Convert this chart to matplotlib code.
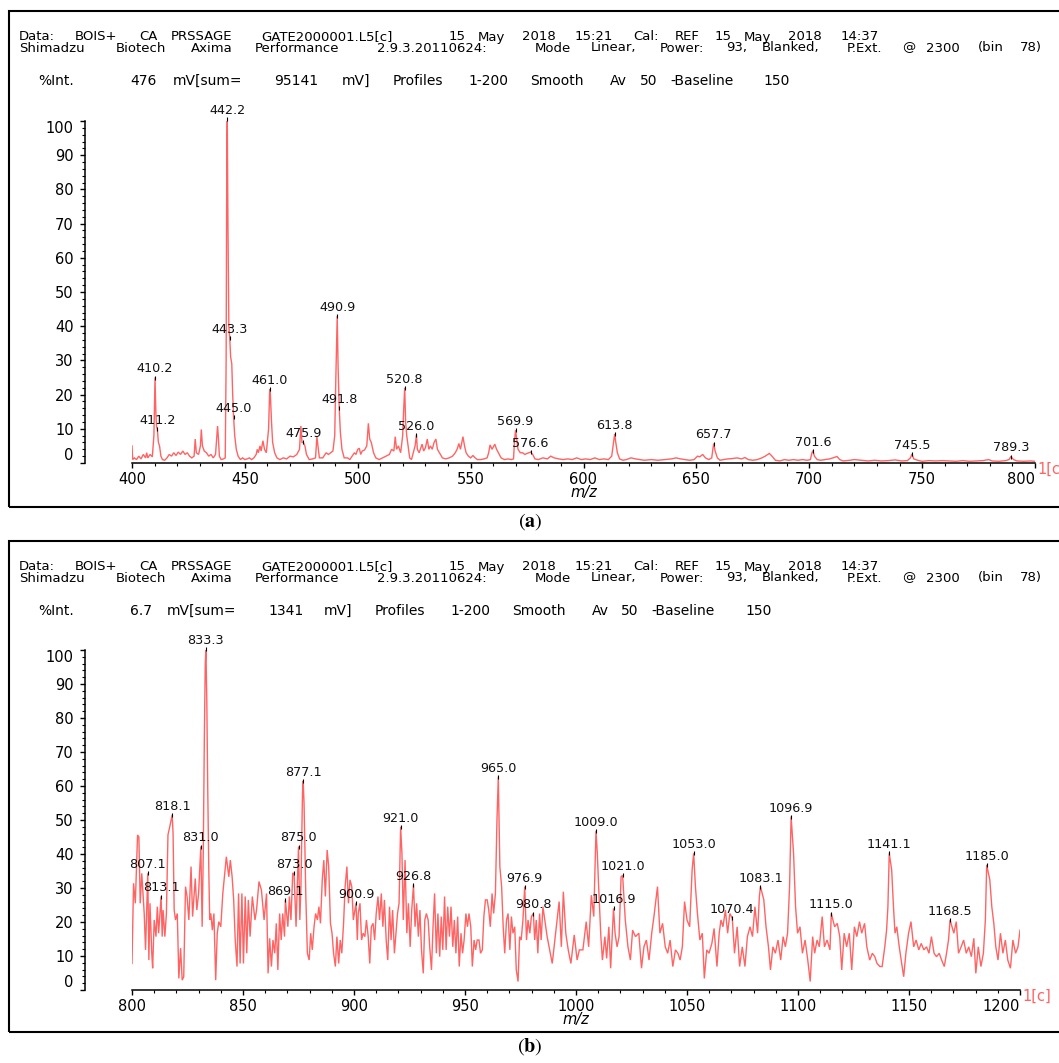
import matplotlib
matplotlib.use("Agg")
import matplotlib.pyplot as plt
from matplotlib.ticker import FixedLocator
from matplotlib.patches import Rectangle

# ---------------- data ----------------
header_line1 = "Data: BOIS+ CA PRSSAGE GATE2000001.L5[c] 15 May 2018 15:21 Cal: REF 15 May 2018 14:37"
header_line2 = ("Shimadzu Biotech Axima Performance 2.9.3.20110624: Mode Linear, Power: 93, "
                "Blanked, P.Ext. @ 2300 (bin 78)")
info_a = "476 mV[sum= 95141 mV]  Profiles 1-200 Smooth Av 50 -Baseline 150"
info_b = "6.7 mV[sum= 1341 mV]  Profiles 1-200 Smooth Av 50 -Baseline 150"
ylabel_txt = "%Int."
xlabel_txt = "m/z"
trace_tag = "1[c]"
panel_tags = ["a", "b"]

yticks = list(range(0, 101, 10))
xticks_a = list(range(400, 801, 50))
xticks_b = list(range(800, 1201, 50))

# panel (a) profile: m/z and %Int
mz_a = [400.0, 400.3, 401, 402, 403, 404, 405, 406, 406.5, 407,
        408, 409, 409.7, 410.2, 410.6, 410.9, 411.2, 411.7, 412.2, 412.8,
        413.5, 414.5, 415.5, 416.5, 417.5, 418.5, 419.5, 420.5, 421.5, 422.5,
        423.5, 424.5, 425.5, 426.5, 427.5, 428.0, 428.5, 429.5, 430.3, 430.7,
        431.2, 432, 433, 434, 435, 436, 437, 437.6, 437.9, 438.3,
        438.7, 439.5, 440.5, 441.3, 441.7, 442.0, 442.2, 442.5, 442.9, 443.3,
        443.7, 444.2, 444.6, 445.0, 445.5, 446.2, 447, 448, 449, 450,
        451, 452, 453, 454, 455, 455.5, 456, 456.7, 457.2, 458,
        458.7, 459.5, 460.5, 461.0, 461.3, 461.8, 462.3, 463.2, 464.2, 465.5,
        467, 468.5, 470, 471.5, 473, 474.2, 474.8, 475.3, 475.9, 476.6,
        477.3, 478.5, 480, 481.3, 481.9, 482.4, 483, 484.5, 486, 487,
        488, 489, 489.8, 490.3, 490.9, 491.3, 491.8, 492.3, 493, 494,
        495.5, 496.5, 497.5, 498.5, 499.2, 500, 500.7, 501.3, 502, 503,
        504, 504.7, 505.3, 506, 507, 508, 509.5, 511, 512.5, 514,
        515, 516.0, 516.6, 517.2, 518, 519, 519.9, 520.3, 520.8, 521.2,
        521.7, 522.3, 523, 523.8, 524.6, 525.4, 526.0, 526.4, 527.2, 528.5,
        529.2, 530.0, 530.8, 531.5, 532.2, 533, 533.8, 534.6, 535.3, 536.2,
        537.5, 539, 540.5, 542, 543.2, 544, 544.8, 545.5, 546.6, 547.3,
        548, 549, 550, 551, 552, 553, 554.5, 556, 557.3, 558,
        558.6, 559.5, 560.7, 561.5, 562.3, 563.5, 565, 566.5, 568, 569,
        569.4, 569.9, 570.4, 571, 572, 573, 574, 575, 576.6, 577.5,
        578.5, 580, 582, 584, 585.5, 587, 589, 591, 593, 595,
        597, 599, 601, 603, 605, 607, 609, 611, 612.5, 613.3,
        613.8, 614.3, 615, 616, 617.5, 619, 621, 623, 625, 627,
        630, 633, 636, 639, 641, 643, 645, 647, 649, 650.5,
        651.5, 652.8, 654, 655.5, 656.8, 657.3, 657.7, 658.3, 659.3, 660.5,
        662, 664, 666, 668, 670, 671.5, 673, 675, 677, 679,
        680.5, 682.3, 683.5, 685, 687, 689, 691, 693, 695, 697,
        699, 700.5, 701.2, 701.6, 702.3, 703.5, 705, 707, 709, 710.5,
        712.3, 713.5, 715, 718, 720, 723, 726, 729, 732, 735,
        738, 741, 743.5, 744.8, 745.5, 746.3, 748, 750, 753, 756,
        759, 762, 765, 768, 771, 774, 777, 779.5, 781, 784,
        787, 788.5, 789.3, 790.5, 792, 795, 798, 800]
int_a = [5.0, 1.0, 1.5, 1.0, 2.0, 1.2, 2.5, 1.5, 3.0, 1.5,
         2.5, 1.8, 8, 25, 14, 10.5, 10, 6, 5, 2,
         1, 0.8, 1.5, 2.5, 2, 3, 2.2, 3.2, 2.5, 3.5,
         2.5, 3, 2, 1.5, 2, 7, 3, 2.5, 5, 9.8,
         5, 3.5, 3, 2, 2.5, 1.5, 2.5, 8, 10.8, 7,
         2, 1.0, 1.2, 1.5, 30, 92, 100.5, 70, 40, 36.5,
         31, 29, 20, 13.5, 8, 4, 2, 1, 1.5, 1,
         1.2, 1.5, 1, 1.5, 2.5, 4, 3, 5, 3.5, 6.5,
         4, 3, 10, 21.5, 20, 12, 6, 3, 1.5, 1,
         1.5, 1.2, 2, 1.8, 2.5, 4, 10.8, 6, 6, 5,
         2.5, 1, 1.2, 1.5, 7.7, 5, 1.5, 1.5, 3, 2.5,
         3, 3.5, 8, 25, 43, 28, 16, 9, 4, 1.5,
         1.5, 1, 2, 3, 2.5, 4, 4.3, 2.5, 3.5, 3.8,
         5, 11.6, 7, 6, 3, 1.5, 1, 1.5, 2, 2.5,
         4, 3.5, 7.7, 4, 5, 3, 8, 15, 22, 12,
         8, 5, 1.5, 1, 3, 5, 8.2, 4, 3, 5.5,
         3.5, 4.5, 7, 4, 5, 4, 6, 7, 4, 3,
         1.5, 1.2, 1.5, 2, 3, 4, 5.7, 4, 7.7, 5,
         3, 2, 1.5, 2.2, 1.5, 1, 1, 1.2, 1.5, 3,
         5.3, 4, 5.5, 4, 3, 1.5, 1, 1.2, 1, 1.2,
         6, 9.6, 7, 4, 3, 3, 2.5, 2.8, 3.2, 2.5,
         1.2, 1, 1.5, 1.2, 2, 1.5, 1.2, 1, 1.2, 1,
         1.5, 1, 1.2, 1, 1.5, 1, 1.2, 1, 2, 6,
         8.5, 6, 3, 1.2, 0.8, 1, 1.5, 1.2, 1, 0.8,
         1, 0.8, 1, 1.2, 1.5, 1.2, 1, 0.8, 1, 2,
         1.8, 2.5, 1.5, 1, 1.5, 4, 5.7, 3.5, 1.5, 0.8,
         1, 1.2, 1.3, 1.5, 1.2, 1.6, 1, 0.8, 1, 1.5,
         2, 2.8, 2, 0.8, 0.6, 1, 0.8, 1, 0.8, 1,
         0.8, 1, 3, 3.6, 2, 1, 0.8, 1, 1.2, 1.5,
         1.9, 1, 0.6, 0.8, 1, 0.8, 0.6, 0.8, 0.6, 0.7,
         0.9, 0.6, 0.7, 1.5, 2.6, 1.2, 0.8, 0.5, 0.7, 0.6,
         0.7, 0.6, 0.5, 0.7, 0.5, 0.6, 0.7, 1, 0.6, 0.5,
         0.7, 1, 1.9, 1, 0.6, 0.5, 0.6, 0.5]

peak_mz_a = [410.2, 411.2, 442.2, 443.3, 445.0, 461.0, 475.9, 490.9, 491.8,
             520.8, 526.0, 569.9, 576.6, 613.8, 657.7, 701.6, 745.5, 789.3]
peak_int_a = [25, 10, 100.5, 36.5, 13.5, 21.5, 6, 43, 16,
              22, 8.2, 9.6, 3.2, 8.5, 5.7, 3.6, 2.6, 1.9]

# panel (b) profile
mz_b = [800.0, 800.7, 801.5, 802.5, 803.1, 803.7, 804.4, 805.5, 806.1, 807.1,
        807.6, 808.1, 808.9, 809.3, 810.0, 810.8, 811.4, 812.0, 813.1, 813.6,
        814.0, 814.8, 815.5, 816.2, 817.0, 818.1, 818.5, 819.0, 819.6, 820.4,
        821.1, 821.9, 822.6, 823.3, 824.1, 824.8, 825.6, 826.6, 827.3, 828.5,
        829.2, 830.0, 831.0, 831.6, 832.1, 832.6, 833.0, 833.3, 833.7, 834.1,
        834.6, 835.0, 835.5, 836.2, 836.9, 837.7, 838.4, 839.1, 840.0, 840.9,
        841.8, 842.5, 843.6, 844.3, 845.1, 845.8, 846.5, 847.3, 848.0, 848.7,
        849.5, 850.2, 851.0, 851.7, 852.4, 853.2, 854.2, 855.4, 856.1, 857.2,
        858.3, 859.5, 860.6, 861.3, 862.0, 862.8, 863.5, 864.3, 865.0, 865.7,
        866.5, 867.2, 867.9, 868.7, 869.1, 870.2, 870.9, 871.6, 872.4, 873.0,
        873.9, 875.0, 875.6, 876.1, 876.8, 877.1, 877.5, 878.3, 879.0, 879.8,
        880.5, 881.2, 882.0, 882.7, 883.5, 884.2, 884.9, 885.7, 886.4, 887.1,
        887.9, 888.6, 889.4, 890.1, 890.8, 891.6, 892.3, 893.1, 893.8, 894.5,
        895.3, 896.0, 896.8, 897.5, 898.2, 899.0, 899.7, 900.9, 901.5, 901.9,
        902.7, 903.4, 904.1, 904.9, 905.6, 906.4, 907.1, 907.8, 908.6, 909.3,
        910.0, 910.8, 911.5, 912.3, 913.0, 913.7, 914.5, 915.2, 916.0, 916.7,
        917.4, 918.2, 918.9, 919.6, 920.3, 921.0, 921.6, 922.2, 923.0, 923.8,
        924.5, 925.3, 926.0, 926.8, 927.5, 928.2, 929.0, 929.7, 930.4, 931.2,
        931.9, 932.6, 933.4, 934.1, 934.9, 935.6, 936.3, 937.1, 937.8, 938.6,
        939.3, 940.0, 940.8, 941.5, 942.2, 943.0, 943.7, 944.5, 945.2, 945.9,
        946.7, 947.4, 948.2, 948.9, 949.6, 950.4, 951.1, 951.8, 952.6, 953.3,
        954.1, 954.8, 955.5, 956.3, 957.0, 957.8, 958.5, 959.2, 960.0, 960.7,
        961.4, 962.2, 962.9, 963.7, 964.4, 965.0, 965.7, 966.5, 967.2, 967.9,
        968.7, 969.4, 970.2, 970.9, 971.6, 972.4, 973.1, 973.9, 974.6, 975.3,
        976.1, 976.9, 977.7, 978.4, 979.2, 979.9, 980.8, 981.4, 982.1, 982.8,
        983.6, 984.3, 985.1, 987.0, 989.3, 990.8, 992.4, 993.4, 994.3, 995.4,
        996.5, 997.7, 999.2, 1000.5, 1001.5, 1003.1, 1004.6, 1005.7, 1006.9, 1008.0,
        1009.0, 1009.6, 1010.2, 1011.2, 1011.9, 1013.0, 1013.8, 1014.8, 1015.6, 1016.9,
        1017.6, 1018.5, 1019.4, 1020.3, 1021.0, 1022.2, 1023.4, 1024.5, 1025.5, 1026.8,
        1028.3, 1029.5, 1030.6, 1031.7, 1032.9, 1034.1, 1035.2, 1036.7, 1037.8, 1039.0,
        1040.2, 1041.3, 1042.4, 1043.6, 1044.8, 1045.9, 1046.9, 1047.9, 1048.9, 1050.0,
        1051.2, 1052.3, 1053.0, 1053.8, 1054.7, 1055.8, 1056.9, 1057.8, 1058.9, 1059.9,
        1061.2, 1062.2, 1063.5, 1064.5, 1065.3, 1066.2, 1067.3, 1068.3, 1069.3, 1070.4,
        1071.4, 1072.6, 1073.7, 1074.9, 1076.1, 1077.2, 1078.4, 1079.5, 1080.6, 1081.8,
        1082.6, 1083.1, 1084.6, 1085.6, 1086.7, 1087.6, 1088.7, 1089.8, 1091.0, 1092.2,
        1093.3, 1094.3, 1095.3, 1096.2, 1096.9, 1098.0, 1098.9, 1099.8, 1100.9, 1102.0,
        1103.2, 1104.4, 1105.5, 1106.6, 1107.5, 1108.6, 1109.6, 1110.9, 1111.9, 1113.1,
        1114.4, 1115.0, 1116.5, 1117.7, 1118.8, 1119.7, 1120.8, 1121.9, 1123.1, 1124.2,
        1125.4, 1126.5, 1127.7, 1128.7, 1130.0, 1131.0, 1132.3, 1133.5, 1134.6, 1135.6,
        1136.9, 1137.9, 1139.1, 1139.9, 1140.5, 1141.1, 1142.2, 1143.0, 1143.7, 1144.5,
        1145.6, 1146.5, 1147.6, 1148.6, 1149.8, 1150.9, 1152.1, 1153.2, 1154.4, 1155.5,
        1156.7, 1157.9, 1159.0, 1160.1, 1161.3, 1162.4, 1163.6, 1164.7, 1165.9, 1166.9,
        1167.8, 1168.5, 1170.2, 1171.3, 1172.3, 1173.5, 1174.6, 1175.8, 1176.9, 1178.1,
        1179.2, 1180.1, 1181.2, 1182.4, 1183.5, 1184.4, 1185.0, 1186.4, 1187.3, 1188.2,
        1189.1, 1190.1, 1191.2, 1192.3, 1193.4, 1194.5, 1195.7, 1196.8, 1198.0, 1199.1,
        1200.0]
int_b = [7.8, 31.4, 25.5, 45.6, 45, 25.5, 34.3, 22.5, 11.8, 34.3,
         8.8, 25.5, 10.8, 6.4, 20.6, 15.7, 24.5, 16.7, 27.5, 15.7,
         23.5, 15.7, 22.5, 45.6, 48, 51.5, 46, 23.5, 20.6, 22.5,
         3.4, 12.3, 2.9, 3.9, 30.4, 27.5, 20.6, 36.3, 21.6, 32.8,
         23.5, 28.4, 42.2, 18.6, 40.2, 75, 96, 100.2, 85, 60,
         35, 20.6, 22.5, 17.6, 22.5, 2.9, 16.7, 20.1, 18.6, 28.4,
         34.3, 39.2, 33.3, 38.2, 33.3, 26.5, 14.7, 6.9, 28.4, 7.8,
         28.4, 7.8, 27.5, 10.8, 26.5, 15.7, 27.5, 20.6, 23.5, 31.9,
         29.4, 20.6, 28.4, 4.9, 15.2, 6.9, 14.7, 10.8, 19.6, 5.9,
         22.5, 14.7, 22.5, 15.7, 26.5, 18.6, 27.5, 20.6, 34.3, 34.3,
         18.6, 42.2, 20.6, 30.4, 58, 61.5, 54.9, 27.5, 10.8, 8.8,
         16.7, 11.8, 18.6, 22.5, 20.6, 24.5, 19.6, 32.4, 38.2, 27.5,
         41.2, 36.3, 19.6, 16.7, 10.8, 6.9, 15.7, 7.8, 14.7, 10.8,
         19.6, 30.4, 36.3, 25.5, 32.4, 30.4, 20.6, 25.5, 14.7, 22.5,
         25.5, 14.7, 16.7, 15.7, 20.6, 15.7, 7.8, 18.6, 19.6, 14.7,
         22.5, 27.5, 20.6, 28.4, 18.6, 26.5, 14.7, 8.8, 24.5, 14.7,
         23.5, 10.8, 16.7, 22.5, 25.5, 48, 40.2, 20.6, 38.2, 16.7,
         25.5, 12.7, 23.5, 30.9, 18.6, 25.5, 15.7, 23.5, 11.8, 4.9,
         20.6, 22.5, 20.6, 12.7, 5.9, 18.6, 28.4, 10.8, 22.5, 9.8,
         21.6, 11.8, 27.5, 11.8, 24.5, 15.7, 24.5, 12.7, 20.6, 10.8,
         21.6, 6.9, 16.7, 10.8, 14.7, 22.5, 18.6, 22.5, 18.6, 6.9,
         14.7, 11.8, 14.7, 14.7, 10.8, 11.8, 21.6, 26.5, 26.5, 23.5,
         18.6, 28.4, 22.5, 28.4, 50, 62.7, 36.3, 30.4, 18.6, 10.8,
         20.6, 22.5, 11.8, 21.6, 16.7, 18.6, 5.9, 2.5, 15.7, 14.7,
         20.6, 30.4, 14.7, 20.6, 16.7, 21.6, 22.5, 14.7, 20.6, 10.8,
         22.5, 14.7, 24.5, 15.7, 7.8, 16.7, 26, 12.7, 28.9, 16.7,
         11.8, 7.8, 16.2, 8.8, 11.8, 11.8, 20.1, 12.7, 27.9, 21.6,
         46.8, 40.2, 30.4, 15.7, 8.8, 15.7, 9.3, 18.6, 6.4, 24,
         16.7, 12.7, 15.7, 33.3, 33.7, 20.6, 12.7, 8.8, 17.6, 15.7,
         16.7, 6.4, 12.7, 14.7, 8.8, 16.7, 22.1, 30.4, 16.7, 19.6,
         12.7, 10.8, 14.7, 6.9, 11.8, 10.8, 8.8, 12.7, 26, 20.6,
         18.6, 35.3, 40.2, 30.4, 22.5, 14.7, 16.7, 3.4, 11.8, 10.8,
         13.7, 18.1, 6.9, 16.7, 20.6, 18.6, 23.5, 16.7, 22.5, 21.1,
         10.8, 18.6, 6.9, 12.7, 6.9, 15.7, 18.6, 15.7, 24.5, 16.7,
         27.5, 30.4, 26.5, 18.6, 12.7, 5.9, 12.7, 10.8, 14.7, 8.8,
         15.7, 12.7, 16.7, 30.4, 51, 40.2, 24.5, 16.7, 18.6, 10.8,
         14.7, 8.8, 2.5, 15.7, 10.8, 14.7, 12.7, 21.6, 12.7, 14.7,
         11.8, 22.5, 18.6, 19.6, 15.7, 5.9, 16.7, 12.7, 16.7, 5.9,
         18.6, 15.7, 20.1, 16.7, 19.6, 12.7, 8.8, 10.8, 9.8, 7.8,
         6.9, 6.9, 12.7, 17.6, 24.5, 40.2, 35.3, 24.5, 16.7, 18.6,
         12.7, 8.8, 3.9, 10.8, 16.7, 20.1, 12.7, 14.7, 11.8, 13.7,
         11.8, 12.7, 10.8, 15.7, 10.8, 9.8, 10.8, 8.8, 6.9, 10.8,
         14.7, 20.6, 16.7, 20.1, 10.8, 12.7, 14.7, 10.8, 12.7, 9.8,
         15.2, 4.9, 12.7, 6.9, 10.8, 20.6, 36.8, 32.4, 24.5, 19.6,
         12.7, 8.8, 16.7, 10.8, 14.7, 8.8, 6.4, 14.7, 10.8, 12.7,
         17.6]

peak_mz_b = [807.1, 813.1, 818.1, 831.0, 833.3, 869.1, 873.0, 875.0, 877.1,
             900.9, 921.0, 926.8, 965.0, 976.9, 980.8, 1009.0, 1016.9, 1021.0,
             1053.0, 1070.4, 1083.1, 1096.9, 1115.0, 1141.1, 1168.5, 1185.0]
peak_int_b = [34.3, 27.5, 51.5, 42.2, 100.2, 26.5, 34.3, 42.2, 61.5,
              25.5, 48, 30.9, 62.7, 30.4, 22.5, 46.8, 24, 33.7,
              40.2, 21.1, 30.4, 51, 22.5, 40.2, 20.6, 36.8]

# ---------------- figure ----------------
W, H = 1059, 1063
DPI = 100
RED = "#ff6464"
FONT = "DejaVu Sans"
plt.rcParams["font.family"] = FONT
plt.rcParams["mathtext.fontset"] = "stix"

fig = plt.figure(figsize=(W / DPI, H / DPI), dpi=DPI)
renderer = fig.canvas.get_renderer()

HEAD_SIZE = 9.5
INFO_SIZE = 10.0


def fx(px):
    return px / W


def fy(py):
    return 1 - py / H


def text_width(s, size):
    t = fig.text(0, 0, s, fontsize=size)
    w = t.get_window_extent(renderer).width
    t.remove()
    return w


def word_layout(s, size):
    """natural start offsets (px) of each word of s"""
    sp = text_width("a a", size) - text_width("aa", size)
    starts, words, x = [], [], 0.0
    for w in s.split(" "):
        if w:
            starts.append(x)
            words.append(w)
            x += text_width(w, size)
        x += sp
    return words, starts


# the original header is drawn horizontally stretched: spread its words
_w2, _s2 = word_layout(header_line2, HEAD_SIZE)
STRETCH = (1042 - 19 - text_width(_w2[-1], HEAD_SIZE)) / _s2[-1]


def stretched_text(x0, y, s, size):
    words, starts = word_layout(s, size)
    for w, st in zip(words, starts):
        fig.text(fx(x0 + st * STRETCH), fy(y), w, fontsize=size,
                 va="baseline", ha="left")


def draw_panel(box_top, box_bottom, ax_left, ax_right, ax_top, ax_bottom,
               mz, inten, pk_mz, pk_int, xticks, info, tag, tag_y):
    # outer frame
    fig.add_artist(Rectangle((fx(9), fy(box_bottom)), fx(1080 - 9),
                             (box_bottom - box_top) / H, transform=fig.transFigure,
                             fill=False, edgecolor="black", linewidth=1.5, clip_on=False))
    # header text
    stretched_text(19, box_top + 29.5, header_line1, HEAD_SIZE)
    stretched_text(19, box_top + 40.5, header_line2, HEAD_SIZE)
    stretched_text(38, box_top + 74, ylabel_txt, INFO_SIZE)
    stretched_text(130, box_top + 74, info, INFO_SIZE)

    ax = fig.add_axes([fx(ax_left), fy(ax_bottom), (ax_right - ax_left) / W,
                       (ax_bottom - ax_top) / H])
    ax.plot(mz, inten, color=RED, lw=1.0, solid_joinstyle="miter")
    ax.set_xlim(xticks[0], xticks[-1])
    ax.set_ylim(0, 100)
    for s in ("top", "right"):
        ax.spines[s].set_visible(False)
    ax.spines["left"].set_position(("outward", 47 * 72 / DPI))
    for s in ("left", "bottom"):
        ax.spines[s].set_linewidth(1.1)

    ax.xaxis.set_major_locator(FixedLocator(xticks))
    ax.xaxis.set_minor_locator(FixedLocator(list(range(xticks[0], xticks[-1] + 1, 10))))
    ax.yaxis.set_major_locator(FixedLocator(yticks))
    ax.yaxis.set_minor_locator(FixedLocator(list(range(0, 101, 2))))
    ax.tick_params(axis="both", which="major", direction="out", length=3.6, width=1.0,
                   labelsize=10.5, colors="black")
    ax.tick_params(axis="both", which="minor", direction="out", length=2.3, width=0.8)
    ax.tick_params(axis="y", which="major", pad=4.5)
    ax.tick_params(axis="x", which="major", pad=3.0)
    ax.set_xticklabels([str(v) for v in xticks])
    ax.set_yticklabels([str(v) for v in yticks])
    yt = ax.yaxis.get_major_ticks()
    yt[0].label1.set_verticalalignment("bottom")
    yt[-1].label1.set_verticalalignment("top")
    xt = ax.xaxis.get_major_ticks()
    xt[-1].label1.set_horizontalalignment("right")

    ax.set_xlabel(xlabel_txt, fontsize=10.5, style="italic", labelpad=-1.5)

    # peak markers and labels
    ax.plot(pk_mz, pk_int, ls="none", marker="|", ms=2.5, mew=0.8, color="black",
            clip_on=False)
    for m, v in zip(pk_mz, pk_int):
        ax.annotate(f"{m:.1f}", xy=(m, v), xytext=(0, 1.5), textcoords="offset points",
                    ha="center", va="bottom", fontsize=9.2, color="#111111",
                    annotation_clip=False)

    ax.annotate(trace_tag, xy=(1, 0), xycoords="axes fraction", xytext=(2, -4.5),
                textcoords="offset points", ha="left", va="center", color=RED,
                fontsize=10.5, annotation_clip=False)

    fig.text(fx(530), fy(tag_y), r"$(\mathbf{" + tag + "})$", fontsize=14.5,
             ha="center", va="center")
    return ax


draw_panel(11, 507, 132, 1035, 121, 463, mz_a, int_a, peak_mz_a, peak_int_a,
           xticks_a, info_a, panel_tags[0], 522)
draw_panel(541, 1032, 132, 1020, 650, 990, mz_b, int_b, peak_mz_b, peak_int_b,
           xticks_b, info_b, panel_tags[1], 1047)

fig.savefig("out.png", dpi=DPI)
